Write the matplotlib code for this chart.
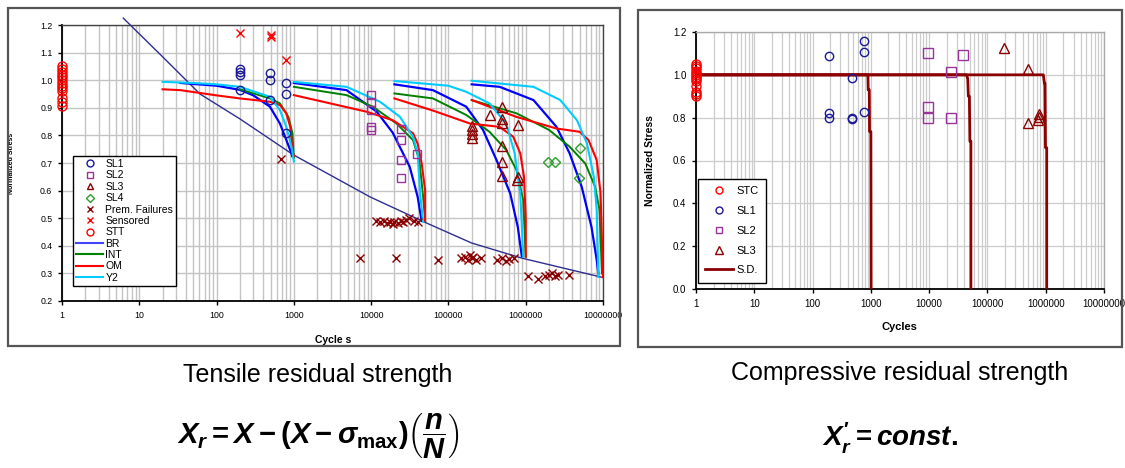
import matplotlib.pyplot as plt
from matplotlib.lines import Line2D
from matplotlib.patches import Rectangle
from matplotlib.ticker import LogLocator, NullFormatter

plt.rcParams['font.family'] = ['Liberation Sans', 'DejaVu Sans']
plt.rcParams['mathtext.fontset'] = 'custom'
plt.rcParams['mathtext.rm'] = 'Liberation Sans:bold'
plt.rcParams['mathtext.it'] = 'Liberation Sans:italic:bold'
plt.rcParams['mathtext.bf'] = 'Liberation Sans:bold'

# ---------------- tensile residual strength (left) ----------------
decade_ticks = [1, 10, 100, 1000, 10000, 100000, 1000000, 10000000]
decade_labels = ['1', '10', '100', '1000', '10000', '100000', '1000000', '10000000']

stt_y = [1.05, 1.04, 1.03, 1.02, 1.01, 1.0, 0.99, 0.98, 0.97, 0.96, 0.935, 0.92, 0.905]

sl1_x = [200, 200, 200, 200, 490, 490, 490, 800, 800, 790]
sl1_y = [1.04, 1.03, 1.02, 0.965, 1.025, 1.0, 0.93, 0.99, 0.95, 0.81]

sl2_x = [10000, 10000, 10000, 10000, 10000, 24000, 24000, 24000, 24000, 39000]
sl2_y = [0.946, 0.92, 0.892, 0.83, 0.82, 0.822, 0.783, 0.71, 0.644, 0.733]

sl3_x = [2e5, 2e5, 2e5, 2e5, 3.4e5, 5e5, 5e5, 5e5, 5e5, 5e5, 5e5, 7.9e5, 7.9e5, 7.7e5]
sl3_y = [0.835, 0.82, 0.805, 0.79, 0.874, 0.904, 0.858, 0.845, 0.761, 0.704, 0.652, 0.837, 0.648, 0.64]

sl4_x = [1.95e6, 2.4e6, 5e6, 4.9e6]
sl4_y = [0.704, 0.704, 0.756, 0.647]

prem_x = [680, 7200, 11500, 13000, 14500, 16000, 17500, 19000, 20000, 21000, 22000, 24000,
          26000, 28000, 31000, 36000, 40000, 74000, 1.45e5, 1.65e5, 1.8e5, 1.9e5, 2e5,
          2.1e5, 2.3e5, 2.6e5, 4.3e5, 5e5, 5.5e5, 6e5, 7e5, 1.07e6, 1.45e6, 1.8e6, 2e6,
          2.2e6, 2.4e6, 2.6e6, 3.6e6]
prem_y = [0.716, 0.354, 0.49, 0.485, 0.49, 0.482, 0.487, 0.48, 0.488, 0.357, 0.483, 0.49,
          0.485, 0.495, 0.5, 0.49, 0.487, 0.35, 0.355, 0.36, 0.35, 0.365, 0.355,
          0.36, 0.35, 0.355, 0.35, 0.355, 0.345, 0.352, 0.355, 0.29, 0.278, 0.29, 0.295,
          0.3, 0.29, 0.295, 0.293]

sens_x = [200, 500, 500, 800]
sens_y = [1.17, 1.164, 1.155, 1.075]

# S-N line
sn_x = [6.2, 20, 61, 200, 980, 9700, 48000, 200000, 900000, 10000000]
sn_y = [1.225, 1.085, 0.95, 0.86, 0.73, 0.577, 0.487, 0.41, 0.355, 0.285]

# residual strength model curves, one list per load level
br_x = [[34, 100, 200, 300, 490, 660, 800, 930, 950],
        [1000, 4800, 11800, 19000, 31600, 40000, 45000],
        [2e4, 6.3e4, 1.7e5, 2.8e5, 4.2e5, 6.3e5, 7.9e5, 8.9e5],
        [2e5, 4.6e5, 1.26e6, 2.5e6, 3.7e6, 5.3e6, 7.1e6, 8.3e6, 8.7e6]]
br_y = [[0.99, 0.98, 0.965, 0.945, 0.904, 0.843, 0.783, 0.735, 0.725],
        [0.99, 0.964, 0.886, 0.81, 0.686, 0.577, 0.49],
        [0.985, 0.964, 0.904, 0.82, 0.71, 0.59, 0.468, 0.362],
        [0.985, 0.976, 0.928, 0.831, 0.735, 0.614, 0.468, 0.348, 0.3]]

int_x = [[200, 490, 660, 850, 960, 990, 1000],
         [1000, 4800, 10500, 21300, 34800, 42000, 47000, 50000],
         [2e4, 6.3e4, 1.7e5, 3.4e5, 5.6e5, 7.6e5, 9.3e5, 1e6],
         [2e5, 7.6e5, 2e6, 3.7e6, 5.9e6, 7.9e6, 9e6, 9.7e6]]
int_y = [[0.967, 0.934, 0.916, 0.867, 0.807, 0.735, 0.72],
         [0.976, 0.946, 0.904, 0.843, 0.783, 0.71, 0.58, 0.49],
         [0.952, 0.934, 0.874, 0.813, 0.747, 0.674, 0.565, 0.36],
         [0.928, 0.88, 0.82, 0.759, 0.698, 0.614, 0.53, 0.3]]

om_x = [[20, 34, 100, 200, 490, 660, 800, 900, 960, 1000],
        [1000, 8700, 19000, 34800, 40000, 45000, 50000, 50000],
        [2e4, 6.3e4, 1.9e5, 4.6e5, 6.9e5, 8.5e5, 9.5e5, 1e6, 1e6],
        [2e5, 7.6e5, 2.5e6, 5e6, 6.5e6, 8.3e6, 9.3e6, 1e7]]
om_y = [[0.967, 0.964, 0.945, 0.934, 0.922, 0.91, 0.88, 0.83, 0.745, 0.725],
        [0.946, 0.886, 0.855, 0.808, 0.77, 0.7, 0.6, 0.49],
        [0.934, 0.89, 0.843, 0.831, 0.795, 0.735, 0.65, 0.5, 0.36],
        [0.928, 0.867, 0.825, 0.813, 0.783, 0.71, 0.59, 0.287]]

y2_x = [[20, 50, 100, 200, 490, 660, 800, 930, 1000],
        [1000, 4800, 13000, 23600, 34800, 40000, 43000, 47000],
        [2e4, 1e5, 1.7e5, 3.4e5, 5.6e5, 7.2e5, 8.5e5, 9.3e5],
        [2e5, 1.26e6, 2.8e6, 4.6e6, 6.2e6, 7.6e6, 8.3e6, 8.7e6]]
y2_y = [[0.994, 0.99, 0.985, 0.976, 0.94, 0.892, 0.83, 0.76, 0.705],
        [0.994, 0.976, 0.922, 0.867, 0.795, 0.735, 0.59, 0.487],
        [0.997, 0.98, 0.958, 0.916, 0.843, 0.735, 0.59, 0.36],
        [0.998, 0.976, 0.928, 0.855, 0.771, 0.65, 0.53, 0.287]]

# ---------------- compressive residual strength (right) ----------------
stc_y = [1.05, 1.04, 1.03, 1.02, 1.01, 1.0, 0.99, 0.98, 0.97, 0.95, 0.92, 0.91, 0.9]

csl1_x = [190, 190, 190, 480, 480, 480, 770, 770, 770]
csl1_y = [1.089, 0.82, 0.80, 0.984, 0.797, 0.795, 1.158, 1.105, 0.825]

csl2_x = [9400, 9400, 9400, 24000, 24000, 38000]
csl2_y = [1.103, 0.848, 0.80, 1.015, 0.80, 1.093]

csl3_x = [1.9e5, 4.9e5, 4.9e5, 7.4e5, 7.6e5, 7.8e5]
csl3_y = [1.124, 1.027, 0.774, 0.79, 0.804, 0.815]

sd_x = [[1, 890, 900, 940, 950, 1000, 1010],
        [1, 44000, 46000, 47000, 49000, 50000, 52000, 52000],
        [1, 9.1e5, 9.5e5, 9.7e5, 9.9e5, 1.04e6, 1.04e6]]
sd_y = [[1.0, 1.0, 0.93, 0.93, 0.735, 0.735, 0.0],
        [1.0, 1.0, 0.98, 0.9, 0.9, 0.69, 0.69, 0.0],
        [1.0, 1.0, 0.96, 0.96, 0.66, 0.66, 0.0]]

W, H = 1125, 468
navy = '#1a1a99'
purple = '#993399'
darkred = '#8b0000'
lgreen = '#2ca02c'

fig = plt.figure(figsize=(W / 100, H / 100), dpi=100)


def px_axes(x0, y0, x1, y1):
    return fig.add_axes([x0 / W, 1 - y1 / H, (x1 - x0) / W, (y1 - y0) / H])


def style_log_axis(ax, fs):
    ax.set_xscale('log')
    ax.set_xlim(1, 1e7)
    ax.set_xticks(decade_ticks)
    ax.set_xticklabels(decade_labels)
    ax.xaxis.set_minor_locator(LogLocator(base=10, subs=range(2, 10), numticks=20))
    ax.xaxis.set_minor_formatter(NullFormatter())
    ax.tick_params(which='minor', length=0)
    ax.tick_params(which='major', length=3, width=1, labelsize=fs, pad=4)
    ax.set_axisbelow(True)


# outer frames
fig.patches.append(Rectangle((8 / W, 1 - 346 / H), 612 / W, 338 / H, transform=fig.transFigure,
                             fill=False, edgecolor='#555555', lw=1.6))
fig.patches.append(Rectangle((638 / W, 1 - 347 / H), 484 / W, 337 / H, transform=fig.transFigure,
                             fill=False, edgecolor='#555555', lw=1.6))

# ---- left chart ----
ax1 = px_axes(62, 25, 603, 301)
style_log_axis(ax1, 6.3)
ax1.set_ylim(0.2, 1.2)
ax1.set_yticks([0.2, 0.3, 0.4, 0.5, 0.6, 0.7, 0.8, 0.9, 1.0, 1.1, 1.2])
ax1.set_yticklabels(['0.2', '0.3', '0.4', '0.5', '0.6', '0.7', '0.8', '0.9', '1.0', '1.1', '1.2'])
ax1.grid(which='both', axis='x', color='#c4c4c4', lw=1.0)
ax1.grid(which='major', axis='y', color='#c4c4c4', lw=1.0)
for s in ['left', 'bottom']:
    ax1.spines[s].set_color('black')
    ax1.spines[s].set_linewidth(1.3)
for s in ['top', 'right']:
    ax1.spines[s].set_color('#444444')
    ax1.spines[s].set_linewidth(1.0)

ax1.plot(sn_x, sn_y, color='#2e2e8f', lw=1.0, clip_on=False, zorder=3)
for xs, ys in zip(br_x, br_y):
    ax1.plot(xs, ys, color='#0000ff', lw=1.6, zorder=3)
for xs, ys in zip(int_x, int_y):
    ax1.plot(xs, ys, color='#008000', lw=1.4, zorder=3)
for xs, ys in zip(om_x, om_y):
    ax1.plot(xs, ys, color='#ff0000', lw=1.5, zorder=3)
for xs, ys in zip(y2_x, y2_y):
    ax1.plot(xs, ys, color='#00ccff', lw=1.5, zorder=3)

mk = dict(ls='none', mfc='none', mew=1.0, zorder=4)
ax1.plot([1] * len(stt_y), stt_y, marker='o', mec='#ff0000', ms=6.5, clip_on=False, **mk)
ax1.plot(sl1_x, sl1_y, marker='o', mec=navy, ms=6, **mk)
ax1.plot(sl2_x, sl2_y, marker='s', mec=purple, ms=6, **mk)
ax1.plot(sl3_x, sl3_y, marker='^', mec=darkred, ms=6.5, **mk)
ax1.plot(sl4_x, sl4_y, marker='D', mec=lgreen, ms=5, **mk)
ax1.plot(prem_x, prem_y, marker='x', mec=darkred, ms=6, **mk)
ax1.plot(sens_x, sens_y, marker='x', mec='#ff0000', ms=6, clip_on=False, **mk)

ax1.yaxis.set_label_coords((15 - 62) / 541, 0.5)
ax1.set_ylabel('Normalized Stress', fontsize=5, fontweight='bold')
fig.text(333 / W, 1 - 340 / H, 'Cycle s', ha='center', va='center', fontsize=7.5, fontweight='bold')

lh = dict(ls='none', mfc='none', mew=1.0)
h1 = [Line2D([], [], marker='o', mec=navy, ms=5, label='SL1', **lh),
      Line2D([], [], marker='s', mec=purple, ms=5, label='SL2', **lh),
      Line2D([], [], marker='^', mec=darkred, ms=5, label='SL3', **lh),
      Line2D([], [], marker='D', mec=lgreen, ms=4.5, label='SL4', **lh),
      Line2D([], [], marker='x', mec=darkred, ms=5, label='Prem. Failures', **lh),
      Line2D([], [], marker='x', mec='#ff0000', ms=5, label='Sensored', **lh),
      Line2D([], [], marker='o', mec='#ff0000', ms=5, label='STT', **lh),
      Line2D([], [], color='#4444ff', lw=1.5, label='BR'),
      Line2D([], [], color='#008000', lw=1.5, label='INT'),
      Line2D([], [], color='#ff0000', lw=1.5, label='OM'),
      Line2D([], [], color='#00ccff', lw=1.5, label='Y2')]
leg1 = ax1.legend(handles=h1, loc='upper left', bbox_to_anchor=(73 / W, 1 - 156 / H),
                  bbox_transform=fig.transFigure, fontsize=7.5, fancybox=False, framealpha=1,
                  edgecolor='black', borderaxespad=0, borderpad=0.3, labelspacing=0.13,
                  handlelength=2.6, handletextpad=0.2)
leg1.get_frame().set_linewidth(1.0)

# ---- right chart ----
ax2 = px_axes(696, 32, 1104, 289)
style_log_axis(ax2, 7)
ax2.set_ylim(0, 1.2)
ax2.set_yticks([0, 0.2, 0.4, 0.6, 0.8, 1.0, 1.2])
ax2.set_yticklabels(['0.0', '0.2', '0.4', '0.6', '0.8', '1.0', '1.2'])
ax2.grid(which='both', axis='x', color='#cccccc', lw=0.9)
ax2.grid(which='major', axis='y', color='#cccccc', lw=0.9)
for s in ['left', 'bottom']:
    ax2.spines[s].set_color('black')
    ax2.spines[s].set_linewidth(1.3)
for s in ['top', 'right']:
    ax2.spines[s].set_color('#aaaaaa')
    ax2.spines[s].set_linewidth(1.0)

for xs, ys in zip(sd_x, sd_y):
    ax2.plot(xs, ys, color='#8b0000', lw=2.0, zorder=3)
ax2.plot([1] * len(stc_y), stc_y, marker='o', mec='#ff0000', ms=6.5, clip_on=False, **mk)
ax2.plot(csl1_x, csl1_y, marker='o', mec=navy, ms=6, **mk)
ax2.plot(csl2_x, csl2_y, marker='s', mec=purple, ms=6.5, **mk)
ax2.plot(csl3_x, csl3_y, marker='^', mec=darkred, ms=7, **mk)

ax2.yaxis.set_label_coords((655 - 696) / 408, 0.5)
ax2.set_ylabel('Normalized Stress', fontsize=7.5, fontweight='bold')
fig.text(899 / W, 1 - 327 / H, 'Cycles', ha='center', va='center', fontsize=8, fontweight='bold')

h2 = [Line2D([], [], marker='o', mec='#ff0000', ms=5, label='STC', **lh),
      Line2D([], [], marker='o', mec=navy, ms=5, label='SL1', **lh),
      Line2D([], [], marker='s', mec=purple, ms=5, label='SL2', **lh),
      Line2D([], [], marker='^', mec=darkred, ms=6, label='SL3', **lh),
      Line2D([], [], color='#8b0000', lw=2.0, label='S.D.')]
leg2 = ax2.legend(handles=h2, loc='upper left', bbox_to_anchor=(698 / W, 1 - 179 / H),
                  bbox_transform=fig.transFigure, fontsize=8, fancybox=False, framealpha=1,
                  edgecolor='black', borderaxespad=0, borderpad=0.65, labelspacing=0.88,
                  handlelength=2.5, handletextpad=0.3)
leg2.get_frame().set_linewidth(1.0)

# captions and formulas
fig.text(318 / W, 1 - 375 / H, 'Tensile residual strength', ha='center', va='center', fontsize=18)
fig.text(900 / W, 1 - 373 / H, 'Compressive residual strength', ha='center', va='center', fontsize=18)
fig.text(318 / W, 1 - 436 / H,
         r'$X_r = X - (X - \sigma_{\mathrm{max}})\left(\dfrac{n}{N}\right)$',
         ha='center', va='center', fontsize=21)
fig.text(890 / W, 1 - 438 / H, r"$X^{\prime}_{r} = const.$", ha='center', va='center', fontsize=20)

fig.savefig('out.png', dpi=100)
